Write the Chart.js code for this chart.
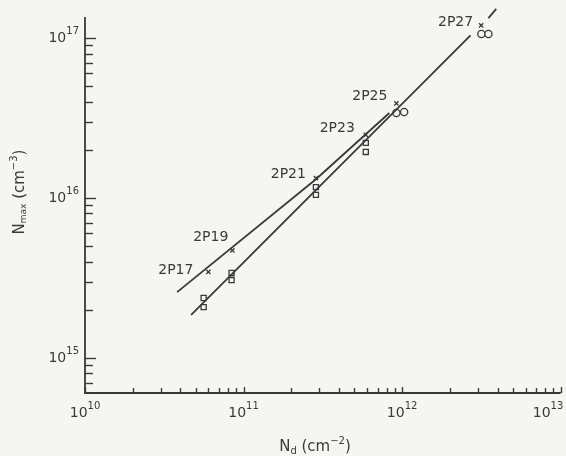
<!DOCTYPE html>
<html>
<head>
<meta charset="utf-8">
<script src="https://cdn.jsdelivr.net/npm/chart.js@4.4.0/dist/chart.umd.min.js"></script>
<style>
  html, body { margin: 0; padding: 0; background: #f5f5f2; }
  #wrap { width: 566px; height: 456px; }
</style>
</head>
<body>
<div id="wrap"><canvas id="chart" width="566" height="456"></canvas></div>
<script>
// Sample names, one per cross
const samples = ['2P17', '2P19', '2P21', '2P23', '2P25', '2P27'];

// crosses (x marks)
const crossNd = [6.0e10, 8.5e10, 2.86e11, 5.9e11, 9.2e11, 3.15e12];
const crossNmax = [3.45e15, 4.7e15, 1.33e16, 2.48e16, 3.9e16, 1.2e17];

// squares, two per sample from 2P17 to 2P23
const squareNd = [5.6e10, 5.6e10, 8.4e10, 8.4e10, 2.86e11, 2.86e11, 5.9e11, 5.9e11];
const squareNmax = [2.37e15, 2.08e15, 3.4e15, 3.07e15, 1.17e16, 1.045e16, 2.21e16, 1.94e16];

// circles for 2P25 and 2P27
const circleNd = [9.2e11, 1.03e12, 3.16e12, 3.5e12];
const circleNmax = [3.4e16, 3.45e16, 1.06e17, 1.06e17];

// the two fitted lines (upper one is broken near 2P27)
const upperNd = [3.81e10, 2.86e11, 8.3e11];
const upperNmax = [2.58e15, 1.31e16, 3.4e16];
const upperTopNd = [3.5e12, 3.92e12];
const upperTopNmax = [1.33e17, 1.52e17];
const lowerNd = [4.67e10, 2.7e12];
const lowerNmax = [1.86e15, 1.04e17];

// axes
const xDecades = [10, 11, 12, 13];
const yDecades = [15, 16, 17];
const xMin = 1e10, xMax = 1e13;
const yMin = 6.04e14, yMax = 1.353e17;

const INK = '#3a3a3a';
const FONT = '"DejaVu Sans", sans-serif';

// label offsets (right edge / middle) relative to each cross
const labelOffsets = [[-15, -2], [-4, -13], [-10, -4], [-11, -7], [-9, -7], [-8, -3]];

function pts(xs, ys) {
  return xs.map((x, i) => ({ x: x, y: ys[i] }));
}

// draws runs of text with their own size and vertical shift
function drawRich(ctx, parts, x, y, align) {
  let total = 0;
  parts.forEach(p => {
    ctx.font = p.size + 'px ' + FONT;
    p.w = ctx.measureText(p.t).width;
    total += p.w;
  });
  let cx = align === 'right' ? x - total : x - total / 2;
  ctx.textAlign = 'left';
  ctx.textBaseline = 'middle';
  parts.forEach(p => {
    ctx.font = p.size + 'px ' + FONT;
    ctx.fillText(p.t, cx, y + (p.dy || 0));
    cx += p.w;
  });
}

function powLabel(exp) {
  return [{ t: '10', size: 14 }, { t: String(exp), size: 10, dy: -7 }];
}

// all tick values 1..9 x 10^n inside [lo, hi]
function logTicks(lo, hi) {
  const out = [];
  for (let e = Math.floor(Math.log10(lo)); e <= Math.ceil(Math.log10(hi)); e++) {
    for (let m = 1; m <= 9; m++) {
      const v = m * Math.pow(10, e);
      if (v >= lo * 0.999 && v <= hi * 1.001) out.push({ v: v, major: m === 1 });
    }
  }
  return out;
}

const bgPlugin = {
  id: 'bg',
  beforeDraw(chart) {
    const ctx = chart.ctx;
    ctx.save();
    ctx.fillStyle = '#f5f5f2';
    ctx.fillRect(0, 0, chart.width, chart.height);
    ctx.restore();
  }
};

const axesPlugin = {
  id: 'axesDraw',
  afterDatasetsDraw(chart) {
    const ctx = chart.ctx;
    const xs = chart.scales.x, ys = chart.scales.y;
    const left = xs.left, right = xs.right, top = ys.top, bottom = ys.bottom;
    ctx.save();
    ctx.strokeStyle = INK;
    ctx.fillStyle = INK;

    // axis lines
    ctx.lineWidth = 1.8;
    ctx.beginPath();
    ctx.moveTo(left, top);
    ctx.lineTo(left, bottom);
    ctx.lineTo(right, bottom);
    ctx.stroke();

    // y ticks pointing inward
    ctx.lineWidth = 1.4;
    logTicks(yMin, yMax).forEach(t => {
      const py = Math.round(ys.getPixelForValue(t.v)) + 0.5;
      ctx.beginPath();
      ctx.moveTo(left, py);
      ctx.lineTo(left + (t.major ? 11 : 8), py);
      ctx.stroke();
    });

    // x ticks pointing up
    logTicks(xMin, xMax).forEach(t => {
      const px = Math.round(xs.getPixelForValue(t.v)) + 0.5;
      ctx.beginPath();
      ctx.moveTo(px, bottom);
      ctx.lineTo(px, bottom - (t.major ? 6 : 5));
      ctx.stroke();
    });

    // tick labels
    yDecades.forEach(e => {
      drawRich(ctx, powLabel(e), 79, ys.getPixelForValue(Math.pow(10, e)), 'right');
    });
    xDecades.forEach(e => {
      const px = Math.min(xs.getPixelForValue(Math.pow(10, e)), chart.width - 18);
      drawRich(ctx, powLabel(e), px, bottom + 20, 'center');
    });

    // axis titles
    drawRich(ctx, [
      { t: 'N', size: 15 }, { t: 'd', size: 10, dy: 4 },
      { t: ' (cm', size: 15 }, { t: '−2', size: 10, dy: -6 }, { t: ')', size: 15 }
    ], 315, 447, 'center');

    ctx.save();
    ctx.translate(20, 192);
    ctx.rotate(-Math.PI / 2);
    drawRich(ctx, [
      { t: 'N', size: 15 }, { t: 'max', size: 9, dy: 4 },
      { t: ' (cm', size: 15 }, { t: '−3', size: 10, dy: -6 }, { t: ')', size: 15 }
    ], 0, 0, 'center');
    ctx.restore();

    // sample labels next to the crosses
    samples.forEach((s, i) => {
      const px = xs.getPixelForValue(crossNd[i]);
      const py = ys.getPixelForValue(crossNmax[i]);
      const off = labelOffsets[i];
      drawRich(ctx, [{ t: s, size: 14 }], px + off[0], py + off[1], 'right');
    });

    ctx.restore();
  }
};

new Chart(document.getElementById('chart'), {
  type: 'scatter',
  data: {
    datasets: [
      {
        type: 'line', data: pts(upperNd, upperNmax),
        borderColor: INK, borderWidth: 1.8, pointRadius: 0, fill: false, clip: false
      },
      {
        type: 'line', data: pts(upperTopNd, upperTopNmax),
        borderColor: INK, borderWidth: 1.8, pointRadius: 0, fill: false, clip: false
      },
      {
        type: 'line', data: pts(lowerNd, lowerNmax),
        borderColor: INK, borderWidth: 1.8, pointRadius: 0, fill: false, clip: false
      },
      {
        data: pts(crossNd, crossNmax),
        pointStyle: 'crossRot', pointRadius: 3, borderColor: INK, borderWidth: 1.3,
        backgroundColor: 'transparent'
      },
      {
        data: pts(squareNd, squareNmax),
        pointStyle: 'rect', pointRadius: 3.6, borderColor: INK, borderWidth: 1.3,
        backgroundColor: '#f5f5f2'
      },
      {
        data: pts(circleNd, circleNmax),
        pointStyle: 'circle', pointRadius: 3.6, borderColor: INK, borderWidth: 1.3,
        backgroundColor: '#f5f5f2'
      }
    ]
  },
  options: {
    responsive: false,
    animation: false,
    layout: { padding: { top: 17, right: 1, left: 0, bottom: 0 } },
    plugins: { legend: { display: false }, tooltip: { enabled: false } },
    scales: {
      x: {
        type: 'logarithmic', min: xMin, max: xMax,
        grid: { display: false }, border: { display: false },
        ticks: { display: false },
        afterFit(scale) { scale.height = 63; }
      },
      y: {
        type: 'logarithmic', min: yMin, max: yMax,
        grid: { display: false }, border: { display: false },
        ticks: { display: false },
        afterFit(scale) { scale.width = 85; }
      }
    }
  },
  plugins: [bgPlugin, axesPlugin]
});
</script>
</body>
</html>
